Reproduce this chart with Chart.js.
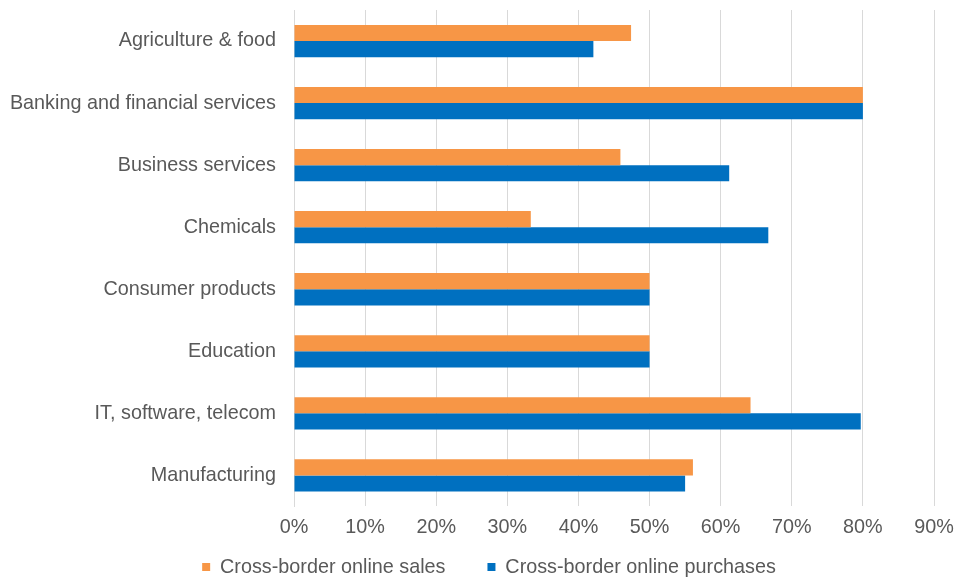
<!DOCTYPE html>
<html>
<head>
<meta charset="utf-8">
<script src="https://cdn.jsdelivr.net/npm/chart.js@4"></script>
<style>
  html, body { margin: 0; padding: 0; background: #fff; }
  #wrap { width: 956px; height: 578px; }
</style>
</head>
<body>
<div id="wrap"><canvas id="grafico"></canvas></div>
<script>
  const setores = [
    'Agriculture & food',
    'Banking and financial services',
    'Business services',
    'Chemicals',
    'Consumer products',
    'Education',
    'IT, software, telecom',
    'Manufacturing'
  ];
  const vendas = [47.4, 80, 45.9, 33.3, 50, 50, 64.2, 56.1];
  const compras = [42.1, 80, 61.2, 66.7, 50, 50, 79.7, 55.0];
  const ticksX = [0, 10, 20, 30, 40, 50, 60, 70, 80, 90];

  const cinza = '#595959';
  Chart.defaults.font.family = '"Liberation Sans", Arial, sans-serif';
  Chart.defaults.font.size = 19.8;
  Chart.defaults.color = cinza;

  // legenda com espaco largo entre itens mas pouco espaco vertical
  const sobra = 33;
  const desvio = 22;
  const legendaCompacta = {
    id: 'legendaCompacta',
    beforeLayout(chart) {
      const leg = chart.legend;
      if (!leg || leg._compacta) return;
      leg._compacta = true;
      const fitOrig = leg.fit;
      leg.fit = function() {
        fitOrig.call(this);
        this.height -= sobra;
      };
      const drawOrig = leg.draw;
      leg.draw = function() {
        this.top -= sobra;
        this.left += desvio;
        this.right += desvio;
        drawOrig.call(this);
        this.top += sobra;
        this.left -= desvio;
        this.right -= desvio;
      };
    }
  };

  const ctx = document.getElementById('grafico').getContext('2d');
  new Chart(ctx, {
    type: 'bar',
    data: {
      labels: setores,
      datasets: [{
        label: 'Cross-border online sales',
        data: vendas,
        backgroundColor: '#F79646',
        categoryPercentage: 0.52,
        barPercentage: 1
      }, {
        label: 'Cross-border online purchases',
        data: compras,
        backgroundColor: '#0070C0',
        categoryPercentage: 0.52,
        barPercentage: 1
      }]
    },
    options: {
      indexAxis: 'y',
      responsive: true,
      maintainAspectRatio: false,
      animation: false,
      layout: {
        padding: {top: 10, right: 22, bottom: -9, left: 0}
      },
      scales: {
        x: {
          min: 0,
          max: 90,
          afterBuildTicks: function(scale) {
            scale.ticks = ticksX.map(v => ({value: v}));
          },
          afterFit: function(scale) {
            scale.paddingLeft = 0;
            scale.paddingRight = 0;
          },
          ticks: {
            padding: 9,
            color: cinza,
            callback: function(value) {
              return value + '%';
            }
          },
          grid: {
            color: '#d9d9d9',
            drawTicks: false
          },
          border: {display: false}
        },
        y: {
          afterFit: function(scale) {
            scale.width = 294;
            scale.paddingTop = 0;
            scale.paddingBottom = 0;
          },
          ticks: {
            padding: 18,
            color: cinza
          },
          grid: {display: false, drawTicks: false},
          border: {display: true, color: '#d9d9d9'}
        }
      },
      plugins: {
        legend: {
          position: 'bottom',
          labels: {
            boxWidth: 8,
            boxHeight: 8,
            padding: 42,
            color: cinza
          }
        },
        tooltip: {enabled: false}
      }
    },
    plugins: [legendaCompacta]
  });
</script>
</body>
</html>
